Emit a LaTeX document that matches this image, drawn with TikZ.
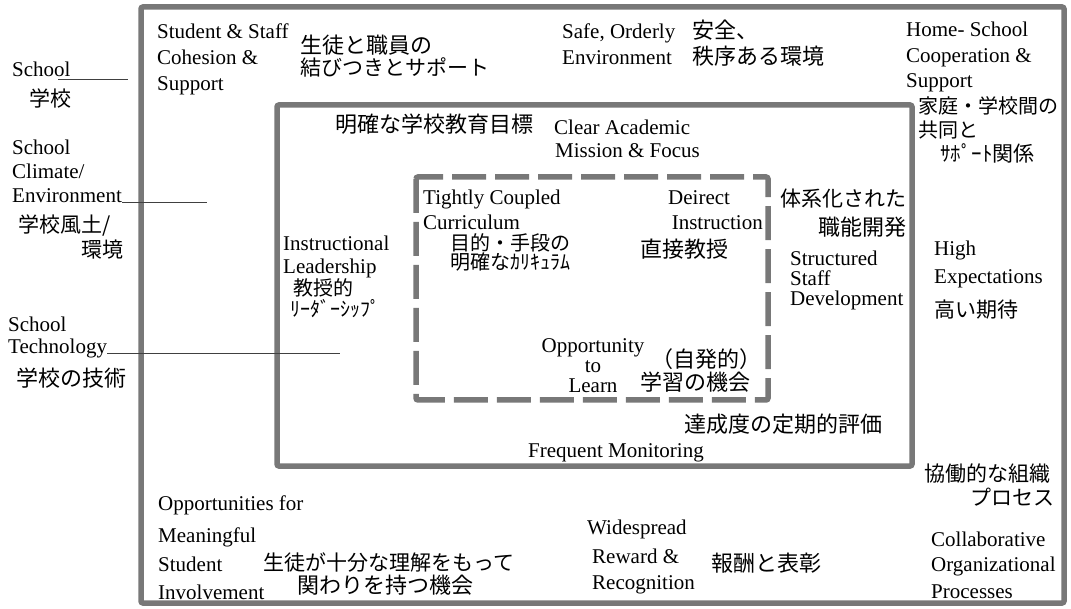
\documentclass[tikz,border=0pt]{standalone}
\usepackage{fontspec}
\setmainfont{Liberation Serif}
\newfontfamily\jp{Noto Sans CJK JP}
\definecolor{bordergray}{rgb}{0.47,0.47,0.47}
\tikzset{
  en/.style={anchor=base west, inner sep=0pt, font=\fontsize{21}{21}\selectfont},
  enc/.style={en, anchor=base},
  ene/.style={en, anchor=base east},
  ja/.style={anchor=base west, inner sep=0pt, font=\jp\fontsize{22}{22}\selectfont},
  jas/.style={ja, font=\jp\fontsize{20}{20}\selectfont},
  jam/.style={ja, font=\jp\fontsize{21}{21}\selectfont},
  jae/.style={ja, anchor=base east},
  jame/.style={jam, anchor=base east},
  box/.style={draw=bordergray, line width=5.5pt, rounded corners=2pt},
  dbox/.style={box, dash pattern=on 34pt off 9pt},
  uline/.style={draw=black!75, line width=1pt},
}
\begin{document}
\begin{tikzpicture}[x=1pt,y=-1pt]
\useasboundingbox (0,0) rectangle (1071,609);
% boxes
\draw[box] (141,7) rectangle (1064,603);
\draw[box] (277,105) rectangle (912,466);
\draw[dbox] (416,177) rectangle (768,400);

% left labels
\node[en] (l1) at (12,77) {School};
\node[jam] (l1j) at (29,107) {学校};
\coordinate (u1a) at (58,80); \coordinate (u1b) at (128,80);
\draw[uline] (u1a) -- (u1b);
\node[en] (l2a) at (12,155) {School};
\node[en] (l2b) at (12,179) {Climate/};
\node[en] (l2c) at (12,203) {Environment};
\coordinate (u2b) at (207,203);
\draw[uline] (l2c.base east) -- (u2b);
\node[jam] (l2j1) at (18,233) {学校風土/};
\node[jame] (l2j2) at (124,258) {環境};
\node[en] (l3a) at (8,332) {School};
\node[en] (l3b) at (8,354) {Technology};
\coordinate (u3b) at (340,354);
\draw[uline] (l3b.base east) -- (u3b);
\node[ja] (l3j) at (16,387) {学校の技術};

% top band
\node[en] (sa) at (157,39) {Student \& Staff};
\node[en] (sb) at (157,65) {Cohesion \&};
\node[en] (sc) at (157,91) {Support};
\node[ja] (sj1) at (300,54) {生徒と職員の};
\node[jam] (sj2) at (300,76) {結びつきとサポート};
\node[en] (oa) at (562,39) {Safe, Orderly};
\node[en] (ob) at (562,65) {Environment};
\node[ja] (oj1) at (692,39) {安全、};
\node[ja] (oj2) at (692,65) {秩序ある環境};
\node[en] (ha) at (906,37) {Home- School};
\node[en] (hb) at (906,63) {Cooperation \&};
\node[en] (hc) at (906,88) {Support};
\node[jas] (hj1) at (918,114) {家庭・学校間の};
\node[jas] (hj2) at (918,138) {共同と};
\node[jam] (hj3) at (940,162) {ｻﾎﾟｰﾄ関係};

% middle box
\node[ja] (mj) at (335,133) {明確な学校教育目標};
\node[en] (ma) at (554,135) {Clear Academic};
\node[en] (mb) at (555,158) {Mission \& Focus};
\node[en] (ia) at (283,251) {Instructional};
\node[en] (ib) at (283,274) {Leadership};
\node[jas] (ij1) at (293,296) {教授的};
\node[jas] (ij2) at (290,317) {ﾘｰﾀﾞｰｼｯﾌﾟ};
\node[jam] (ta) at (780,207) {体系化された};
\node[jae] (tb) at (907,236) {職能開発};
\node[en] (tc) at (790,266) {Structured};
\node[en] (td) at (790,286) {Staff};
\node[en] (te) at (790,306) {Development};
\node[en] (ea) at (934,256) {High};
\node[en] (eb) at (934,284) {Expectations};
\node[jam] (ej) at (934,318) {高い期待};
\node[ja] (fj) at (684,432) {達成度の定期的評価};
\node[en] (fa) at (528,457) {Frequent Monitoring};

% inner box
\node[en] (ca) at (423,205) {Tightly Coupled};
\node[en] (cb) at (423,230) {Curriculum};
\node[jas] (cj1) at (450,251) {目的・手段の};
\node[jas] (cj2) at (450,270) {明確なｶﾘｷｭﾗﾑ};
\node[en] (da) at (668,205) {Deirect};
\node[ene] (db) at (763,230) {Instruction};
\node[ja] (dj) at (640,258) {直接教授};
\node[enc] (ga) at (593,353) {Opportunity};
\node[enc] (gb) at (593,373) {to};
\node[enc] (gc) at (593,393) {Learn};
\node[ja] (gj1) at (651,368) {（自発的）};
\node[ja] (gj2) at (640,391) {学習の機会};

% bottom band
\node[en] (pa) at (158,510) {Opportunities for};
\node[en] (pb) at (158,542) {Meaningful};
\node[en] (pc) at (158,571) {Student};
\node[en] (pd) at (158,599) {Involvement};
\node[jam] (pj1) at (263,570) {生徒が十分な理解をもって};
\node[ja] (pj2) at (297,593) {関わりを持つ機会};
\node[en] (wa) at (587,534) {Widespread};
\node[en] (wb) at (592,563) {Reward \&};
\node[en] (wc) at (592,589) {Recognition};
\node[ja] (wj) at (711,571) {報酬と表彰};
\node[jam] (kj1) at (924,481) {協働的な組織};
\node[jam] (kj2) at (970,505) {プロセス};
\node[en] (ka) at (931,546) {Collaborative};
\node[en] (kb) at (931,571) {Organizational};
\node[en] (kc) at (931,598) {Processes};
\end{tikzpicture}
\end{document}
